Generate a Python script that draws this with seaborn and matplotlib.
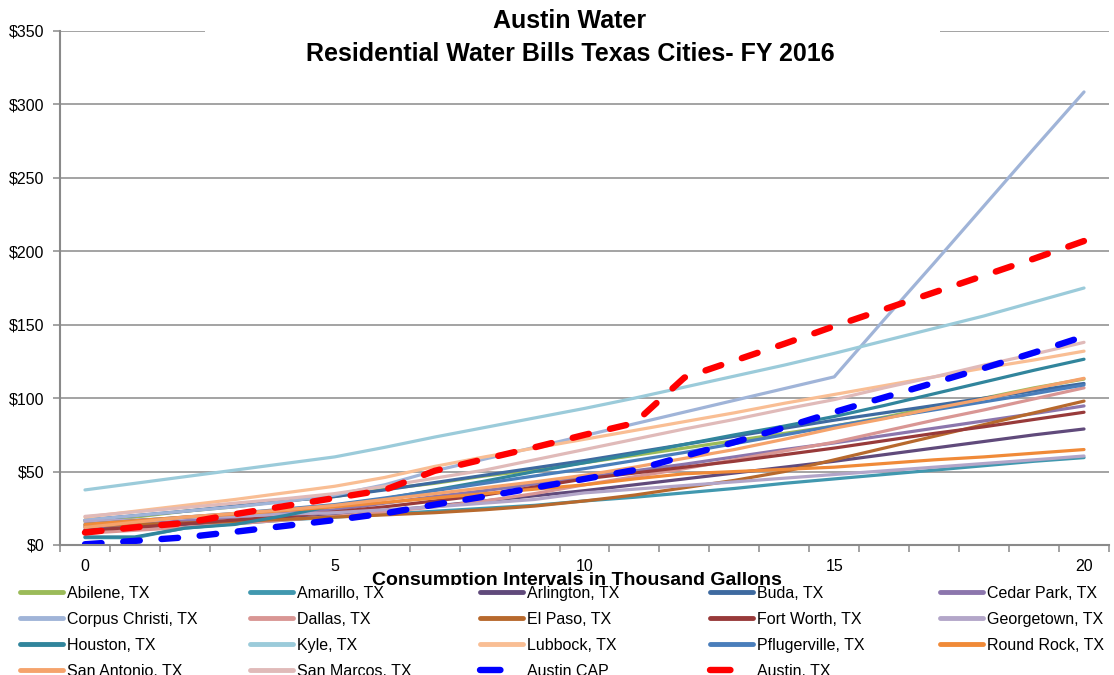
import pandas as pd
import matplotlib.pyplot as plt
import seaborn as sns
from matplotlib.lines import Line2D
from matplotlib.patches import Rectangle

# Consumption in thousand gallons and monthly bills ($)
gallons = list(range(21))

abilene = [16, 19, 23, 26, 30, 33, 38, 42, 47, 51, 56, 61, 66, 71, 76, 81, 87, 94, 100, 107, 113]
amarillo = [5, 5, 11.5, 14.5, 17, 19, 21, 23, 25, 27, 30, 32.5, 35.5, 38.5, 42, 45, 48, 51, 54, 57, 59.5]
arlington = [10.5, 12.5, 14, 16, 18, 20, 23, 26.5, 30, 33.5, 37, 41, 45, 49, 53, 57, 61.5, 66, 70.5, 75, 79]
buda = [17, 20, 23, 26.5, 30, 33, 37.5, 42.5, 47.5, 52.5, 57.5, 63, 68.5, 74, 79.5, 85, 90, 95, 100, 105, 110]
cedar_park = [12, 14, 16.5, 19, 21.5, 24, 28.5, 33, 37, 41.5, 46, 50.5, 55, 60, 65, 69.5, 74.5, 79.5, 84.5, 89.5, 94.7]
corpus_christi = [17, 20, 23, 26, 29.5, 34, 41, 50.5, 58.5, 66.5, 74.5, 82.5, 90.5, 98.5, 106.5, 114.5, 153.5, 192, 231, 270, 308.5]
dallas = [8, 10, 12, 14.5, 17, 19.5, 22.5, 26, 30, 35, 41, 46.5, 52, 58, 64, 70, 77.5, 85, 92, 99.5, 107]
el_paso = [13, 14, 15, 16, 17.5, 19, 20.5, 22, 24, 26.5, 30, 34, 39, 44, 50, 58, 66, 74, 82, 90, 98]
fort_worth = [10, 12, 14.5, 17, 19.5, 22.5, 26, 30, 34, 39.5, 45, 49, 53, 57, 61.5, 66, 71, 76, 80.5, 85.5, 90.4]
georgetown = [16, 17, 18.5, 19.5, 21, 22, 24, 26, 28.5, 31, 35.5, 38, 40.5, 43, 45.5, 48, 50.5, 53, 55.5, 58, 60.6]
houston = [5.5, 5.5, 11.5, 14, 20, 27, 31.5, 37.5, 43.5, 50, 56, 62, 68.5, 75, 81, 87.5, 95, 103, 111, 119, 126.5]
kyle = [37.5, 42, 46.5, 51, 55.5, 60, 66.5, 73.5, 80, 86.5, 93, 100, 107.5, 115, 122.5, 130.5, 139, 147.5, 156, 165.5, 175]
lubbock = [19, 23, 27, 31, 35.5, 40, 46, 53.5, 60, 66, 72, 78, 84, 90, 96.5, 102.5, 108.5, 114.5, 120.5, 126, 132]
pflugerville = [14, 16.5, 19, 21.5, 24.5, 27.5, 32, 37, 42, 47, 52, 57.5, 63, 69, 75, 81, 86.5, 92, 97.5, 103, 109]
round_rock = [14, 16.5, 19, 21, 23.5, 26, 29, 32, 35, 38, 41, 45, 48.5, 50, 51.5, 53, 55.5, 58, 60, 62.5, 65]
san_antonio = [12, 15.5, 19, 21.5, 24, 27, 31, 35, 39, 43, 47.5, 53, 59, 65, 72, 79.5, 86, 93, 99.5, 106.5, 113.5]
san_marcos = [19.5, 22.5, 25.5, 28.5, 31.5, 35, 40, 45.5, 51, 58, 65, 72, 79, 85.5, 92.5, 99, 107, 114.5, 122.5, 130, 138]
austin_cap = [0.5, 2.8, 5.2, 9, 13, 17, 21.5, 27.5, 33, 39, 45, 51, 60.5, 70, 80, 90.5, 100.5, 110.5, 120.5, 131, 142]
austin = [8.5, 12, 15, 21, 26.5, 32, 37.5, 50.5, 58.5, 66.5, 75, 83, 114, 125.5, 137, 149, 160.5, 172, 183.5, 195, 207]

cities = ["Abilene, TX", "Amarillo, TX", "Arlington, TX", "Buda, TX", "Cedar Park, TX",
          "Corpus Christi, TX", "Dallas, TX", "El Paso, TX", "Fort Worth, TX", "Georgetown, TX",
          "Houston, TX", "Kyle, TX", "Lubbock, TX", "Pflugerville, TX", "Round Rock, TX",
          "San Antonio, TX", "San Marcos, TX", "Austin CAP", "Austin, TX"]
bills = [abilene, amarillo, arlington, buda, cedar_park, corpus_christi, dallas, el_paso,
         fort_worth, georgetown, houston, kyle, lubbock, pflugerville, round_rock,
         san_antonio, san_marcos, austin_cap, austin]
colors = ["#9BBB59", "#4198AF", "#604A7B", "#3E6AA0", "#8C76AD", "#A0B4D8", "#D99694",
          "#B7692D", "#983A3A", "#B3A6C9", "#31859C", "#9BCBDA", "#F9BE94", "#4A7EBB",
          "#F08A38", "#F5A36C", "#E0BAB9", "#0000FF", "#FF0000"]
dashed = ["Austin CAP", "Austin, TX"]

df = pd.DataFrame([(c, g, v) for c, vals in zip(cities, bills) for g, v in zip(gallons, vals)],
                  columns=["city", "gallons", "bill"])

sns.set_style("white")
plt.rcParams['font.family'] = ['Liberation Sans', 'DejaVu Sans']
plt.rcParams['text.color'] = 'black'
plt.rcParams['xtick.color'] = 'black'
plt.rcParams['ytick.color'] = 'black'

fig = plt.figure(figsize=(11.14, 6.75), dpi=100)
ax = fig.add_axes([60 / 1114, 1 - 545 / 675, (1109 - 60) / 1114, (545 - 31) / 675])

solid = [c for c in cities if c not in dashed]
sns.lineplot(data=df[df.city.isin(solid)], x="gallons", y="bill", hue="city",
             hue_order=solid, palette=dict(zip(cities, colors)), linewidth=2.3,
             legend=False, ax=ax)
for name in dashed:
    sub = df[df.city == name]
    sns.lineplot(data=sub, x="gallons", y="bill", color=colors[cities.index(name)],
                 linewidth=4.6, legend=False, ax=ax)
    ln = ax.lines[-1]
    ln.set_dashes((2.6, 3.4))
    ln.set_dash_capstyle("round")

ax.set_xlim(-0.5, 20.5)
ax.set_ylim(0, 350)
ax.set_yticks(range(0, 351, 50))
ax.set_yticklabels([f"${v}" for v in range(0, 351, 50)], fontsize=11.5)
ax.yaxis.grid(True, color="#8a8a8a", linewidth=1.1)
ax.set_axisbelow(True)
ax.set_xticks([0, 5, 10, 15, 20])
ax.set_xticks([i - 0.5 for i in range(22)], minor=True)
ax.tick_params(axis="x", which="major", length=0, pad=10, labelsize=11.5)
ax.tick_params(axis="x", which="minor", length=5, width=1.1, color="#8a8a8a", direction="out")
ax.tick_params(axis="y", length=5, width=1.1, color="#8a8a8a", labelcolor="black",
               direction="out", pad=6)
ax.tick_params(bottom=True, left=True, which="both")
ax.set_xlabel("")
ax.set_ylabel("")
for s in ["top", "right"]:
    ax.spines[s].set_visible(False)
for s in ["left", "bottom"]:
    ax.spines[s].set_color("#8a8a8a")
    ax.spines[s].set_linewidth(1.5)

# white box behind the title, cutting the top gridline
fig.patches.append(Rectangle((205 / 1114, 1 - 66 / 675), 735 / 1114, 60 / 675,
                             transform=fig.transFigure, facecolor="white",
                             edgecolor="none", zorder=1))
fig.text(570 / 1114, 1 - 28 / 675, "Austin Water", ha="center", va="baseline",
         fontsize=18, fontweight="bold", zorder=3)
fig.text(570 / 1114, 1 - 61 / 675, "Residential Water Bills Texas Cities- FY 2016",
         ha="center", va="baseline", fontsize=18, fontweight="bold", zorder=3)

# axis title, partly hidden behind the legend area as in the original
fig.text(577 / 1114, 1 - 585 / 675, "Consumption Intervals in Thousand Gallons",
         ha="center", va="baseline", fontsize=14, fontweight="bold", zorder=3)
fig.patches.append(Rectangle((0, 0), 1, 1 - 585 / 675, transform=fig.transFigure,
                             facecolor="white", edgecolor="none", zorder=4))

# legend: 5 evenly spaced columns, filled row by row
for col in range(5):
    idx = list(range(col, len(cities), 5))
    handles = []
    for i in idx:
        if cities[i] in dashed:
            h = Line2D([], [], color=colors[i], linewidth=4.6, dashes=(3.2, 12),
                       dash_capstyle="round")
        else:
            h = Line2D([], [], color=colors[i], linewidth=3.5)
        handles.append(h)
    fig.legend(handles, [cities[i] for i in idx], loc="upper left",
               bbox_to_anchor=((20 + col * 230) / 1114, 1 - 586 / 675),
               frameon=False, borderpad=0, borderaxespad=0, fontsize=11.5,
               handlelength=2.7, handletextpad=0.25, labelspacing=0.68)

fig.text(1083 / 1114, 1 - 668 / 675, "10", ha="right", va="baseline", fontsize=14)

fig.savefig("out.png", dpi=100)
